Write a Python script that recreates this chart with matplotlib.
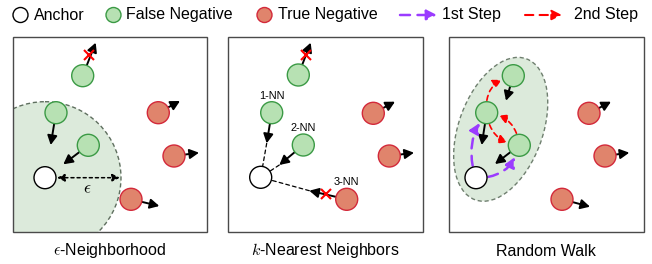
import matplotlib.pyplot as plt
from matplotlib.patches import Circle, Ellipse, Rectangle, FancyArrowPatch

plt.rcParams['font.family'] = ['Liberation Sans', 'DejaVu Sans']

# panel boxes: left, top, size (pixels)
panel_left = [12.7, 228.3, 449.0]
panel_top = 37.3
panel_size = 194.5
panel_titles = [r'$\epsilon$-Neighborhood', r'$k$-Nearest Neighbors', 'Random Walk']

# nodes per panel: centers and where their black arrow points
green_nodes = [
    [(82.7, 75.7), (56.0, 112.7), (88.3, 145.3)],
    [(298.3, 75.0), (271.7, 112.7), (303.3, 145.0)],
    [(513.3, 75.7), (486.7, 112.7), (519.3, 145.3)],
]
green_tips = [
    [(95.7, 42.7), (50.7, 145.0), (63.3, 164.3)],
    [(310.7, 42.7), (266.7, 143.3), (279.3, 165.0)],
    [(506.0, 100.7), (481.7, 145.0), (495.0, 164.0)],
]
red_nodes = [
    [(158.3, 112.7), (174.0, 156.0), (131.0, 199.3)],
    [(373.3, 113.3), (389.3, 156.0), (346.7, 199.3)],
    [(589.0, 113.3), (605.0, 156.0), (562.0, 199.3)],
]
red_tips = [
    [(180.0, 101.0), (199.0, 152.7), (159.3, 206.0)],
    [(395.0, 101.7), (414.0, 152.7), (309.3, 190.7)],
    [(611.0, 101.7), (629.3, 152.7), (590.0, 206.7)],
]
anchors = [(45.0, 177.7), (260.7, 177.3), (476.0, 177.7)]
blocked = [(89.3, 55.0), (306.0, 55.0), (326.0, 194.0)]

eps_radius = 76
knn_labels = ['1-NN', '2-NN', '3-NN']
knn_label_pos = [(271.7, 96.0), (303.3, 128.0), (346.7, 182.0)]

# random walk steps: (from node, to node, bend)
walk_first = [((476.0, 177.7), (486.7, 112.7), -0.28), ((476.0, 177.7), (519.3, 145.3), 0.4)]
walk_second = [((486.7, 112.7), (513.3, 75.7), -0.45), ((519.3, 145.3), (486.7, 112.7), 0.4),
               ((486.7, 112.7), (519.3, 145.3), 0.4)]

R = 11
green_fc, green_ec = '#b7e1b3', '#3b9a45'
red_fc, red_ec = '#e0846c', '#d3293a'
purple = '#9b3cff'
shade = '#dceadb'

fig = plt.figure(figsize=(6.52, 2.64), dpi=100)
ax = fig.add_axes([0, 0, 1, 1])
ax.set_xlim(0, 652)
ax.set_ylim(264, 0)
ax.axis('off')

R_PT = R * 0.72


def arrow(a, b, color='black', ls='-', rad=0.0, sa=R_PT, sb=0, lw=1.4, hl=5.5, hw=2.9):
    p = FancyArrowPatch(a, b, arrowstyle=f'-|>,head_length={hl},head_width={hw}',
                        connectionstyle=f'arc3,rad={rad}', color=color, lw=lw,
                        linestyle=ls, shrinkA=sa, shrinkB=sb, mutation_scale=1, zorder=4)
    ax.add_patch(p)


def node(c, fc, ec, r=R, z=5):
    ax.add_patch(Circle(c, r, fc=fc, ec=ec, lw=1.0, zorder=z))


for i in range(3):
    box = Rectangle((panel_left[i], panel_top), panel_size, panel_size, fill=False,
                    ec='#4a4a4a', lw=1.0, zorder=6)
    ax.add_patch(box)
    ax.text(panel_left[i] + panel_size / 2, 251, panel_titles[i], ha='center', va='center',
            fontsize=11.5, math_fontfamily='cm')
    for c, t in zip(green_nodes[i], green_tips[i]):
        node(c, green_fc, green_ec)
        arrow(c, t)
    for c, t in zip(red_nodes[i], red_tips[i]):
        node(c, red_fc, red_ec)
        arrow(c, t)
    node(anchors[i], 'white', 'black')

# epsilon neighborhood
clip = Rectangle((panel_left[0], panel_top), panel_size, panel_size, transform=ax.transData)
ball = Circle(anchors[0], eps_radius, fc=shade, ec='#5f6f5f', lw=1.0, ls=(0, (3, 2)), zorder=1)
ax.add_patch(ball)
ball.set_clip_path(clip)
ax.annotate('', xy=(anchors[0][0] + eps_radius - 1, anchors[0][1]),
            xytext=(anchors[0][0] + R + 1, anchors[0][1]),
            arrowprops=dict(arrowstyle='<|-|>,head_length=0.45,head_width=0.22', ls=(0, (2, 2)),
                            color='black', lw=1.1, shrinkA=0, shrinkB=0), zorder=4)
ax.text(anchors[0][0] + 42, anchors[0][1] + 11, r'$\epsilon$', ha='center', va='center',
        fontsize=12.5, math_fontfamily='cm')

# blocked moves
bx, by = zip(*blocked)
ax.plot(bx, by, ls='none', marker='x', ms=6.5, mew=1.5, color='red', zorder=7)

# knn labels and dashed links to the anchor
for lab, (x, y) in zip(knn_labels, knn_label_pos):
    ax.text(x, y, lab, ha='center', va='center', fontsize=7.8)
for t in [green_tips[1][1], green_tips[1][2], red_tips[1][2]]:
    ax.add_patch(FancyArrowPatch(t, anchors[1], arrowstyle='-', color='black', lw=0.9,
                                 linestyle=(0, (3, 2.5)), shrinkA=0, shrinkB=R_PT, zorder=3))

# random walk region and steps
ax.add_patch(Ellipse((500.7, 129.3), 84, 150, angle=20, fc=shade, ec='#6f7f6f', lw=1.0,
                     ls=(0, (3, 2)), zorder=1))
for a, b, rad in walk_first:
    arrow(a, b, color=purple, ls=(0, (4, 3)), rad=rad, sa=R_PT + 1, sb=R_PT + 1, lw=1.8, hl=6, hw=3)
for a, b, rad in walk_second:
    arrow(a, b, color='red', ls=(0, (3, 2.5)), rad=rad, sa=R_PT + 1, sb=R_PT + 1, lw=1.2, hl=5, hw=2.6)

# legend row
ly = 15
node((20.5, ly), 'white', 'black', r=7.5)
ax.text(34, ly, 'Anchor', va='center', fontsize=11.5)
node((113.5, ly), green_fc, green_ec, r=7.5)
ax.text(126.5, ly, 'False Negative', va='center', fontsize=11.5)
node((264.5, ly), red_fc, red_ec, r=7.5)
ax.text(277.5, ly, 'True Negative', va='center', fontsize=11.5)
arrow((400, ly), (437, ly), color=purple, ls=(0, (4, 3)), sa=0, lw=1.8, hl=6, hw=3)
ax.text(442, ly, '1st Step', va='center', fontsize=11.5)
arrow((525, ly), (562, ly), color='red', ls=(0, (4, 3)), sa=0, lw=1.5, hl=6, hw=3)
ax.text(574, ly, '2nd Step', va='center', fontsize=11.5)

fig.savefig('out.png', dpi=100)
